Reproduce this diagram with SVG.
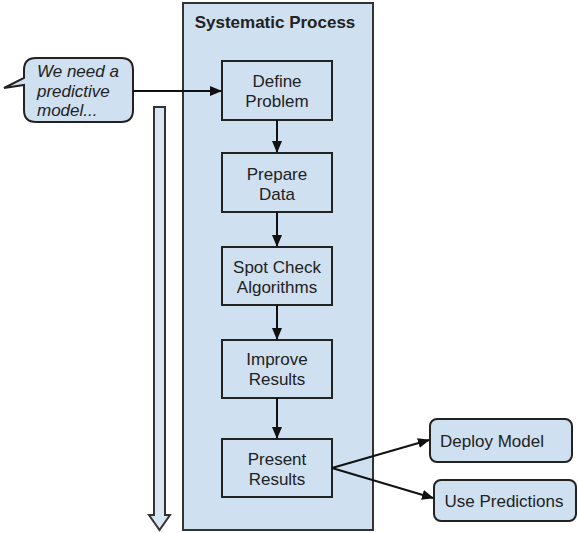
<svg xmlns="http://www.w3.org/2000/svg" width="578" height="533" viewBox="0 0 578 533">
<defs>
<style>
.box{fill:#cfe0f1;stroke:#222;stroke-width:2}
.cont{fill:#cfe0f1;stroke:#333;stroke-width:2}
.t{font-family:"Liberation Sans",Arial,sans-serif;font-size:17px;fill:#222;text-anchor:middle}
.ti{font-family:"Liberation Sans",Arial,sans-serif;font-size:17px;fill:#222;font-style:italic}
.h{font-family:"Liberation Sans",Arial,sans-serif;font-size:17px;font-weight:bold;fill:#222;text-anchor:middle}
.c{fill:none;stroke:#111;stroke-width:2}
</style>
<marker id="ah" markerWidth="12" markerHeight="10" refX="11" refY="5" orient="auto" markerUnits="userSpaceOnUse">
<path d="M0,0 L12,5 L0,10 Z" fill="#111"/>
</marker>
</defs>
<rect width="578" height="533" fill="#fff"/>
<g id="container">
<rect class="cont" x="183" y="3" width="190" height="527"/>
<text class="h" x="275" y="28">Systematic Process</text>
</g>
<g id="progress">
<path d="M154,107 L165,107 L165,515 L170,515 L159.5,530 L149,515 L154,515 Z" fill="#d8e6f3" stroke="#333" stroke-width="2"/>
</g>
<g id="bubble">
<path d="M36,58 L121,58 Q133,58 133,70 L133,110 Q133,122 121,122 L36,122 Q24,122 24,110 L24,85 L4,88 L24,78 L24,70 Q24,58 36,58 Z" fill="#cfe0f1" stroke="#222" stroke-width="2"/>
<text class="ti" x="37" y="77">We need a</text>
<text class="ti" x="37" y="97">predictive</text>
<text class="ti" x="37" y="116">model...</text>
</g>
<g id="define">
<rect class="box" x="222" y="61" width="110" height="59"/>
<text class="t" x="277" y="87">Define</text>
<text class="t" x="277" y="107">Problem</text>
</g>
<g id="prepare">
<rect class="box" x="222" y="153" width="110" height="59"/>
<text class="t" x="277" y="180">Prepare</text>
<text class="t" x="277" y="200">Data</text>
</g>
<g id="spot">
<rect class="box" x="222" y="247" width="110" height="58"/>
<text class="t" x="277" y="273">Spot Check</text>
<text class="t" x="277" y="293">Algorithms</text>
</g>
<g id="improve">
<rect class="box" x="222" y="340" width="110" height="58"/>
<text class="t" x="277" y="365">Improve</text>
<text class="t" x="277" y="385">Results</text>
</g>
<g id="present">
<rect class="box" x="222" y="439" width="110" height="58"/>
<text class="t" x="277" y="465">Present</text>
<text class="t" x="277" y="485">Results</text>
</g>
<g id="deploy">
<rect class="box" x="430" y="419" width="142" height="43" rx="7"/>
<text class="t" x="492" y="447">Deploy Model</text>
</g>
<g id="use">
<rect class="box" x="434" y="480" width="142" height="41" rx="7"/>
<text class="t" x="504" y="507">Use Predictions</text>
</g>
<g id="connectors">
<line class="c" x1="133" y1="91" x2="221" y2="91" marker-end="url(#ah)"/>
<line class="c" x1="277" y1="120" x2="277" y2="152" marker-end="url(#ah)"/>
<line class="c" x1="277" y1="212" x2="277" y2="246" marker-end="url(#ah)"/>
<line class="c" x1="277" y1="305" x2="277" y2="339" marker-end="url(#ah)"/>
<line class="c" x1="277" y1="398" x2="277" y2="438" marker-end="url(#ah)"/>
<line class="c" x1="332" y1="468" x2="429" y2="440" marker-end="url(#ah)"/>
<line class="c" x1="332" y1="468" x2="433" y2="498" marker-end="url(#ah)"/>
</g>
</svg>
